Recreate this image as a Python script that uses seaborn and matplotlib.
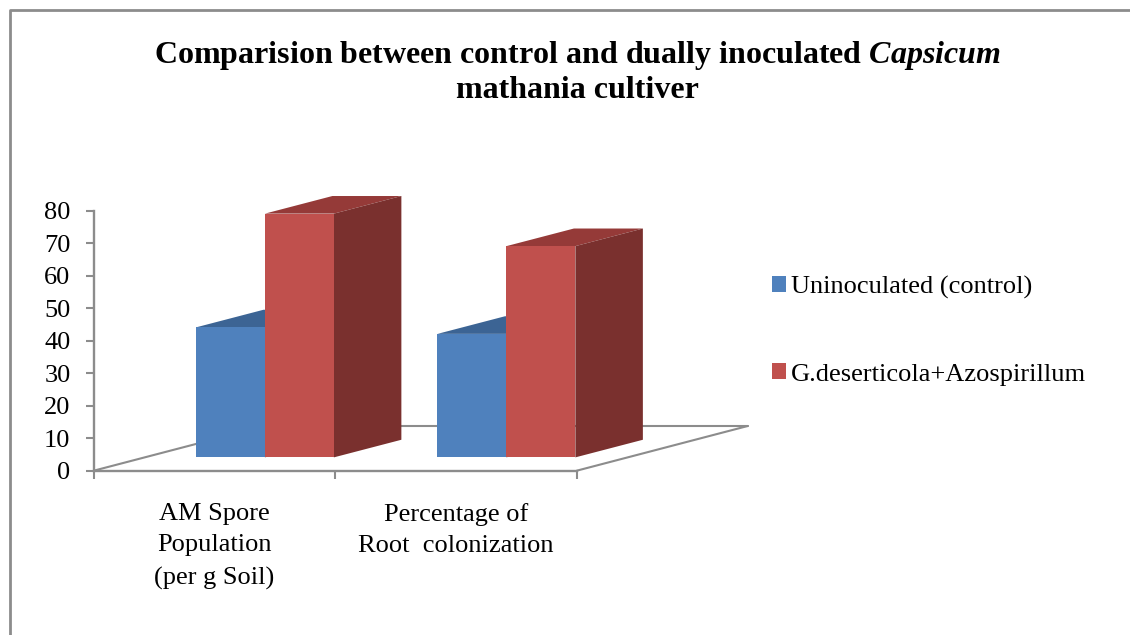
import numpy as np
import pandas as pd
import matplotlib
matplotlib.use("Agg")
import matplotlib.pyplot as plt
import seaborn as sns
from matplotlib.patches import Polygon, Rectangle

# values
categories = ["AM Spore\nPopulation\n(per g Soil)", "Percentage of\nRoot  colonization"]
series = ["Uninoculated (control)", "G.deserticola+Azospirillum"]
control = [40, 38]
dual = [75, 65]
y_ticks = [0, 10, 20, 30, 40, 50, 60, 70, 80]

colors = ["#4F81BD", "#C0504D"]
top_colors = ["#3C6494", "#953A38"]
side_colors = ["#33557F", "#7A302E"]
grey = "#8C8C8C"

df = pd.DataFrame({
    "cat": categories * 2,
    "serie": [series[0]] * 2 + [series[1]] * 2,
    "val": control + dual,
})

sns.set_theme(style="white")
plt.rcParams["font.family"] = ["Liberation Serif", "DejaVu Serif"]
plt.rcParams["mathtext.fontset"] = "custom"
plt.rcParams["mathtext.rm"] = "Liberation Serif"
plt.rcParams["mathtext.bf"] = "Liberation Serif:bold"
plt.rcParams["mathtext.bfit"] = "Liberation Serif:italic:bold"

W, H = 1130, 635
fig = plt.figure(figsize=(W / 100, H / 100), dpi=100)
fig.patch.set_facecolor("white")
ax = fig.add_axes([93.7 / W, 1 - 470.7 / H, (576.7 - 93.7) / W, 260 / H])

sns.barplot(data=df, x="cat", y="val", hue="serie", palette=colors, width=0.571,
            dodge=True, saturation=1, gap=0, ax=ax, linewidth=0)

ax.set_xlim(-0.709, 1.291)
ax.set_ylim(0, 80)

floor = 4.1  # front of the bars stands a bit in front of the axis line

# depth of the bars and of the floor, in data units
dx, dy = 0.2795, 5.42
fx, fy = 0.708, 13.75

# floor outline
x0, x1 = ax.get_xlim()
for xs, ys in [([x0, x0 + fx], [0, fy]), ([x0 + fx, x1 + fx], [fy, fy]), ([x1, x1 + fx], [0, fy])]:
    ax.plot(xs, ys, color=grey, lw=1.5, clip_on=False, zorder=1)

# top and side faces for every bar
bars = [p for p in ax.containers[0]] + [p for p in ax.containers[1]]
for i, bar in enumerate(bars):
    n = i // 2
    bar.set_y(floor)
    bar.set_clip_on(False)
    left, base, w, h = bar.get_x(), bar.get_y(), bar.get_width(), bar.get_height()
    right, top = left + w, base + h
    z = 2 + n
    ax.add_patch(Polygon([(left, top), (right, top), (right + dx, top + dy), (left + dx, top + dy)],
                         fc=top_colors[n], ec="none", clip_on=False, zorder=z))
    ax.add_patch(Polygon([(right, base), (right + dx, base + dy), (right + dx, top + dy), (right, top)],
                         fc=side_colors[n], ec="none", clip_on=False, zorder=z))
    bar.set_zorder(z + 0.5)

sns.despine(ax=ax)
for side in ["left", "bottom"]:
    ax.spines[side].set_color(grey)
    ax.spines[side].set_linewidth(1.7)

ax.set_yticks(y_ticks)
ax.set_xticks([x0, x0 + 1, x1])
ax.set_xticklabels([])
ax.set_xticks([x0 + 0.5, x0 + 1.5], labels=categories, minor=True)
ax.tick_params(axis="y", which="major", left=True, length=5.7, width=1.5, color=grey,
               labelsize=19, labelcolor="black", pad=11)
ax.tick_params(axis="x", which="major", bottom=True, length=5.7, width=1.5, color=grey)
ax.tick_params(axis="x", which="minor", bottom=False, labelsize=19, labelcolor="black", pad=19)
for t in ax.get_xticklabels(minor=True):
    t.set_linespacing(1.57)
ax.set_xlabel("")
ax.set_ylabel("")

handles, labels = ax.get_legend_handles_labels()
ax.legend(handles, labels, frameon=False, loc="center left",
          bbox_to_anchor=(772 / W, 1 - 330.5 / H), bbox_transform=fig.transFigure,
          fontsize=19, labelcolor="black", labelspacing=2.46, handlelength=0.53,
          handleheight=0.53, handletextpad=0.18, borderpad=0, borderaxespad=0)

fig.text(577 / W, 1 - 56 / H, "Comparision between control and dually inoculated $\\mathbfit{Capsicum}$",
         ha="center", va="center", fontsize=23, fontweight="bold", color="black")
fig.text(577 / W, 1 - 91 / H, "mathania cultiver",
         ha="center", va="center", fontsize=23, fontweight="bold", color="black")

# chart frame
fig.add_artist(plt.Line2D([10 / W, 10 / W, 1], [0, 1 - 10 / H, 1 - 10 / H], color=grey, lw=2))

fig.savefig("out.png", dpi=100)
